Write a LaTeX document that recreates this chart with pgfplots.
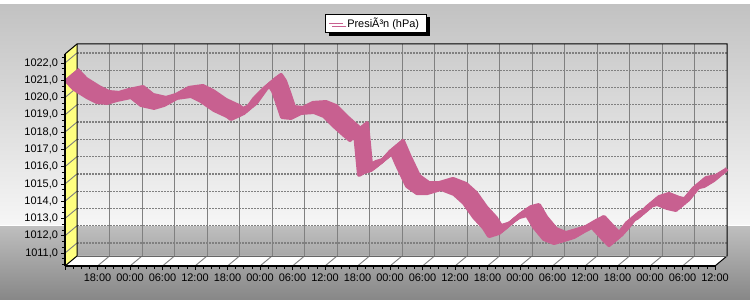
\documentclass[border=0pt]{standalone}
\usepackage{pgfplots}
\pgfplotsset{compat=1.18}
\usepackage{pgfplotstable}
\usepackage{fontspec}
\setmainfont{Liberation Sans}
\usetikzlibrary{shadows}
\definecolor{ribbon}{RGB}{200,96,144}
\definecolor{wallyellow}{RGB}{255,255,128}
\definecolor{gridgray}{RGB}{128,128,128}
\definecolor{bgtop}{RGB}{194,194,194}
\definecolor{bgmid}{RGB}{246,246,246}
\definecolor{bglowtop}{RGB}{190,190,190}
\definecolor{bglowbot}{RGB}{135,135,135}

\pgfplotstableread{
h v
0 1021.05
1.66 1020.50
4.06 1020.03
5.91 1019.74
7.75 1019.69
9.6 1019.86
12.18 1020.03
14.03 1019.57
16.43 1019.40
18.28 1019.57
20.68 1019.98
23.26 1020.09
25.11 1019.80
27.51 1019.28
29.91 1018.93
30.65 1018.76
33.05 1019.11
34.89 1019.92
36.74 1020.50
37.66 1020.73
38.4 1020.38
39.14 1019.74
40.06 1018.87
41.72 1018.82
43.57 1019.11
45.97 1019.16
47.82 1018.93
49.66 1018.35
51.51 1017.83
52.62 1017.54
53.54 1017.95
54.28 1015.52
55.2 1015.69
56.49 1015.81
58.34 1016.27
60.18 1016.91
61.29 1016.10
63.14 1014.88
64.98 1014.47
66.83 1014.47
69.42 1014.71
71.82 1014.42
73.66 1013.90
75.51 1013.08
77.35 1012.45
78.28 1011.98
80.12 1012.16
81.97 1012.68
83.82 1013.08
85.29 1013.20
86.58 1012.51
88.43 1011.81
90.28 1011.58
92.12 1011.75
93.97 1011.93
95.82 1012.27
97.29 1012.51
99.51 1011.75
100.43 1011.46
101.91 1011.98
103.75 1012.74
105.6 1013.03
107.45 1013.66
109.29 1013.84
111.14 1013.61
112.8 1013.49
114.28 1014.07
116.12 1014.76
117.97 1014.88
119.8 1015.23
120 1015.30
}\pressure

\begin{document}
\begin{tikzpicture}
% background
\fill[top color=bgtop, bottom color=bgmid] (0bp,75bp) rectangle (750bp,296bp);
\fill[white] (0bp,296bp) rectangle (750bp,300bp);
\fill[white] (0bp,73.5bp) rectangle (750bp,75bp);
\fill[top color=bglowtop, bottom color=bglowbot] (0bp,0bp) rectangle (750bp,73.5bp);

\begin{axis}[
  at={(65bp,34bp)}, anchor=south west,
  scale only axis, width=650bp, height=212bp,
  xmin=0, xmax=120, ymin=1010.25, ymax=1022.52,
  axis on top, clip=false,
  separate axis lines,
  axis x line*=bottom, axis y line*=left,
  axis line style={black, line width=1.8bp, -},
  xtick={0,6,...,120},
  xticklabels={,18:00,00:00,06:00,12:00,18:00,00:00,06:00,12:00,18:00,00:00,06:00,12:00,18:00,00:00,06:00,12:00,18:00,00:00,06:00,12:00},
  minor xtick={1.5,3,...,120},
  ytick={1011,1012,...,1022},
  minor ytick={1010.3333,1010.6667,...,1022.4},
  tick align=outside,
  major tick length=3.5bp, minor tick length=3bp,
  every tick/.style={black, line width=0.7bp},
  tick label style={font=\fontsize{11}{12}\selectfont, text=black},
  xticklabel style={yshift=-1bp},
  yticklabel style={/pgf/number format/.cd, fixed, fixed zerofill, precision=1, use comma, 1000 sep={}, assume math mode=true},
  legend style={at={(0.478,1.146)}, anchor=center, draw=black, line width=0.8bp, fill=white,
    font=\fontsize{11}{12}\selectfont, inner xsep=3bp, inner ysep=1.5bp,
    nodes={inner xsep=4bp},
    drop shadow={shadow xshift=3.5bp, shadow yshift=-3.5bp, fill=black, opacity=1}},
  legend image code/.code={\draw[#1] (0bp,0bp) -- (14bp,0bp);},
]
% floor
\fill[white] (rel axis cs:0,0) -- (rel axis cs:1,0) -- ([shift={(12bp,10bp)}]rel axis cs:1,0) -- ([shift={(12bp,10bp)}]rel axis cs:0,0) -- cycle;
% side wall
\fill[wallyellow] (rel axis cs:0,0) -- (rel axis cs:0,1) -- ([shift={(12bp,10bp)}]rel axis cs:0,1) -- ([shift={(12bp,10bp)}]rel axis cs:0,0) -- cycle;
% horizontal grid
\pgfplotsinvokeforeach{1011,1012,...,1022}{
  \draw[gridgray, line width=1.2bp, dash pattern=on 1.5bp off 1.5bp] ([shift={(12bp,10bp)}]axis cs:0,#1) -- ([shift={(12bp,10bp)}]axis cs:120,#1);
  \draw[gridgray, line width=0.9bp] (axis cs:0,#1) -- ([shift={(12bp,10bp)}]axis cs:0,#1);
}
% vertical grid
\pgfplotsinvokeforeach{6,12,...,114}{
  \draw[gridgray, line width=1bp] ([shift={(12bp,10bp)}]axis cs:#1,1010.25) -- ([shift={(12bp,10bp)}]axis cs:#1,1022.52);
  \draw[gridgray, line width=0.9bp] (axis cs:#1,1010.25) -- ([shift={(12bp,10bp)}]axis cs:#1,1010.25);
}
% outlines
\draw[black, line width=1bp] (rel axis cs:0,1) -- ([shift={(12bp,10bp)}]rel axis cs:0,1) -- ([shift={(12bp,10bp)}]rel axis cs:1,1) -- ([shift={(12bp,10bp)}]rel axis cs:1,0) -- (rel axis cs:1,0);
\draw[black, line width=1bp] ([shift={(12bp,10bp)}]rel axis cs:0,1) -- ([shift={(12bp,10bp)}]rel axis cs:0,0) -- (rel axis cs:0,0);
\draw[black!60, line width=0.6bp] ([shift={(12bp,10bp)}]rel axis cs:0,0) -- ([shift={(12bp,10bp)}]rel axis cs:1,0);
% ribbon
\pgfplotsinvokeforeach{0,1,2,3,4,5,6}{
  \addplot[ribbon, line width=4bp, line join=round, forget plot, xshift=#1*2bp, yshift=#1*1.6667bp] table[x=h,y=v] {\pressure};
}
\addlegendimage{ribbon, line width=1bp}
\addlegendentry{PresiÃ³n (hPa)}
\end{axis}
\pgfresetboundingbox
\path[use as bounding box] (0bp,0bp) rectangle (750bp,300bp);
\end{tikzpicture}
\end{document}
